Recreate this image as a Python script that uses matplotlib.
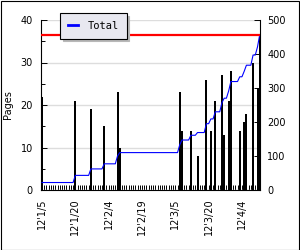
import matplotlib
matplotlib.use('Agg')
import matplotlib.pyplot as plt
import numpy as np
from matplotlib.patches import Rectangle
from matplotlib.lines import Line2D

# ---- data ----
day_offsets = [0, 15, 22, 28, 34, 35, 62, 63, 67, 70, 74, 76, 78, 81, 82, 84, 85, 89, 91, 92, 95, 97, 98]
pages = [22, 21, 19, 15, 23, 10, 23, 14, 14, 8, 26, 14, 21, 27, 13, 21, 28, 14, 16, 18, 30, 24, 36]
n_days = 99
tick_days = [0, 15, 30, 45, 60, 75, 90]
tick_labels = ["12'1/5", "12'1/20", "12'2/4", "12'2/19", "12'3/5", "12'3/20", "12'4/4"]
legend_label = "Total"

daily = np.zeros(n_days)
daily[day_offsets] = pages
cumulative = np.cumsum(daily)
days = np.arange(n_days)

fig = plt.figure(figsize=(3, 2.5), dpi=100)
fig.patch.set_facecolor('white')
fig.patches.append(Rectangle((0.5 / 300, 0.5 / 250), 1 - 1.5 / 300, 1 - 1.5 / 250,
                             transform=fig.transFigure, fill=False,
                             edgecolor='black', lw=0.8))

ax = fig.add_axes([0.137, 0.24, 0.731, 0.68])
ax.set_facecolor('white')
bars = ax.bar(day_offsets, pages, width=0.9, color='black', zorder=2)
for b in bars:
    b.set_clip_on(False)
ax.set_xlim(-0.4, 98.3)
ax.set_ylim(0, 40)
ax.set_yticks([0, 10, 20, 30, 40])
ax.set_yticks([5, 15, 25, 35], minor=True)
ax.yaxis.grid(True, which='major', color='#dddddd', lw=1)
ax.set_axisbelow(True)
ax.set_xticks(tick_days, tick_labels, rotation=90)
ax.set_xticks(days, minor=True)
ax.tick_params(axis='x', which='both', direction='in', length=3.5, width=0.7,
               labelsize=7, pad=6, top=False)
ax.tick_params(axis='y', which='major', direction='in', length=4, width=0.7,
               labelsize=7, pad=6)
ax.tick_params(axis='y', which='minor', direction='in', length=3, width=0.7)
for s in ['top', 'right']:
    ax.spines[s].set_visible(False)
for s in ['left', 'bottom']:
    ax.spines[s].set_linewidth(0.8)
ax.set_ylabel('Pages', fontsize=7, labelpad=5)

ax2 = ax.twinx()
ax2.set_ylim(0, 500)
ax2.plot(days, cumulative, color='#0000ff', lw=0.8)
ax2.axhline(cumulative[-1], color='red', lw=1.6)
ax2.set_yticks([0, 100, 200, 300, 400, 500])
ax2.tick_params(axis='y', direction='in', length=4, width=0.7, labelsize=7, pad=5)
for s in ['top', 'bottom', 'left']:
    ax2.spines[s].set_visible(False)
ax2.spines['right'].set_linewidth(0.8)
ax2.set_xlim(-0.4, 98.3)

leg = ax2.legend(handles=[Line2D([], [], color='#0000ff', lw=2)], labels=[legend_label],
                 loc='upper left', bbox_to_anchor=(60 / 300, 237 / 250),
                 bbox_transform=fig.transFigure, fancybox=False, framealpha=1,
                 facecolor='#e8e8f0', edgecolor='black', borderaxespad=0,
                 handlelength=1.0, handletextpad=0.9, borderpad=0.75,
                 prop={'family': 'DejaVu Sans Mono', 'size': 7.5},
                 shadow={'color': '#b8b8b8', 'alpha': 1})
leg.get_frame().set_linewidth(0.8)

fig.savefig('out.png', dpi=100)
